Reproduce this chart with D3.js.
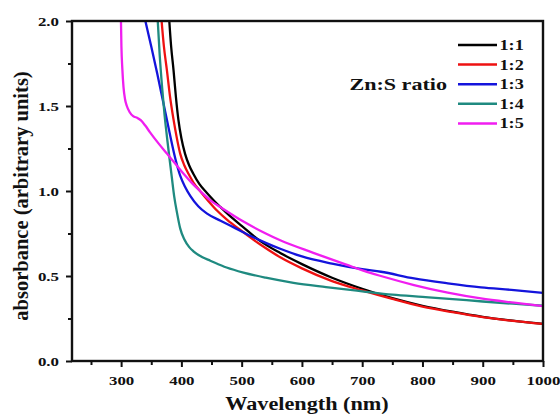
<!DOCTYPE html>
<html>
<head>
<meta charset="utf-8">
<script src="https://cdn.jsdelivr.net/npm/d3@7"></script>
<style>
  html, body { margin: 0; padding: 0; background: #fff; }
  svg { display: block; }
  svg text { font-family: "Liberation Serif", Tinos, "Times New Roman", "Nimbus Roman", "DejaVu Serif", serif !important; font-weight: bold; fill: #111; }
</style>
</head>
<body>
<svg id="chart" width="560" height="414"></svg>
<script>
// ---------- data (wavelength nm, absorbance) ----------
const seriesNames = ["1:1", "1:2", "1:3", "1:4", "1:5"];
const seriesColors = ["#000000", "#ee1111", "#1414dc", "#1f8a80", "#f01ef0"];

const ratio11 = [[379,2.05],[383,1.85],[387,1.71],[391,1.55],[395,1.42],[400,1.31],[406,1.22],[413,1.15],[420,1.10],[430,1.04],[442,0.99],[455,0.94],[465,0.905],[480,0.855],[500,0.795],[531,0.705],[564,0.635],[600,0.57],[650,0.49],[700,0.425],[750,0.37],[800,0.325],[850,0.29],[900,0.26],[950,0.237],[1000,0.218]];
const ratio12 = [[366,2.05],[371,1.85],[376,1.71],[381,1.56],[387,1.42],[392,1.32],[398,1.22],[405,1.15],[412,1.10],[420,1.05],[431,1.0],[445,0.94],[459,0.885],[476,0.83],[500,0.765],[531,0.685],[564,0.61],[600,0.545],[650,0.47],[700,0.415],[750,0.365],[800,0.32],[850,0.287],[900,0.258],[950,0.236],[1000,0.218]];
const ratio13 = [[337,2.05],[350,1.85],[360,1.69],[370,1.52],[380,1.35],[390,1.19],[398,1.09],[406,1.025],[415,0.97],[428,0.91],[442,0.868],[465,0.825],[490,0.78],[515,0.735],[540,0.695],[564,0.66],[600,0.615],[650,0.573],[700,0.54],[731,0.525],[786,0.486],[842,0.457],[897,0.433],[952,0.417],[1000,0.40]];
const ratio14 = [[360,2.05],[364,1.8],[368,1.61],[372,1.45],[376,1.32],[380,1.2],[384,1.084],[388,0.97],[393,0.867],[398,0.78],[405,0.715],[413,0.67],[420,0.645],[435,0.61],[448,0.59],[475,0.55],[503,0.52],[540,0.49],[586,0.46],[640,0.435],[700,0.41],[750,0.39],[800,0.377],[850,0.364],[900,0.35],[950,0.337],[1000,0.325]];
const ratio15 = [[299.5,2.05],[300.5,1.85],[302,1.72],[304,1.61],[306.5,1.54],[309.5,1.50],[314,1.465],[320,1.44],[327,1.43],[333,1.415],[340,1.385],[348,1.345],[362,1.28],[376,1.22],[390,1.16],[404,1.10],[418,1.045],[431,1.0],[448,0.945],[465,0.905],[503,0.82],[540,0.75],[564,0.71],[620,0.635],[675,0.565],[703,0.53],[731,0.5],[786,0.447],[842,0.402],[897,0.368],[952,0.343],[1000,0.323]];
const seriesData = [ratio11, ratio12, ratio13, ratio14, ratio15];

const xMajorTicks = [300, 400, 500, 600, 700, 800, 900, 1000];
const xMinorTicks = [250, 350, 450, 550, 650, 750, 850, 950];
const yMajorTicks = [0.0, 0.5, 1.0, 1.5, 2.0];
const yMinorTicks = [0.25, 0.75, 1.25, 1.75];
const xTitle = "Wavelength (nm)";
const yTitle = "absorbance (arbitrary units)";
const legendTitle = "Zn:S ratio";

// ---------- layout ----------
const svg = d3.select("#chart");
const L = 72, R = 543, T = 21, B = 361;
const x = d3.scaleLinear().domain([218.5, 1000]).range([L, R]);
const y = d3.scaleLinear().domain([0, 2]).range([B, T]);
const sxTick = 1.3;

svg.append("defs").append("clipPath").attr("id", "clip")
  .append("rect").attr("x", L).attr("y", T).attr("width", R - L).attr("height", B - T);

// curves
const line = d3.line().x(d => x(d[0])).y(d => y(d[1])).curve(d3.curveMonotoneX);
const plot = svg.append("g").attr("clip-path", "url(#clip)");
seriesData.forEach((s, i) => {
  plot.append("path").datum(s)
    .attr("fill", "none")
    .attr("stroke", seriesColors[i])
    .attr("stroke-width", 2.3)
    .attr("stroke-linejoin", "round")
    .attr("d", line);
});

// frame
svg.append("rect").attr("x", L).attr("y", T).attr("width", R - L).attr("height", B - T)
  .attr("fill", "none").attr("stroke", "#111").attr("stroke-width", 2.4);

// x axis
const xAxis = svg.append("g").attr("transform", `translate(0,${B})`)
  .call(d3.axisBottom(x).tickValues(xMajorTicks).tickSize(6).tickPadding(9).tickFormat(d3.format("d")));
const xMinor = svg.append("g").attr("transform", `translate(0,${B})`)
  .call(d3.axisBottom(x).tickValues(xMinorTicks).tickSize(4).tickFormat(""));
// y axis
const yAxis = svg.append("g").attr("transform", `translate(${L},0)`)
  .call(d3.axisLeft(y).tickValues(yMajorTicks).tickSize(6).tickFormat(d3.format(".1f")));
const yMinor = svg.append("g").attr("transform", `translate(${L},0)`)
  .call(d3.axisLeft(y).tickValues(yMinorTicks).tickSize(4).tickFormat(""));

[xAxis, xMinor, yAxis, yMinor].forEach(g => {
  g.attr("font-family", null);
  g.select(".domain").remove();
  g.selectAll(".tick line").attr("stroke", "#111").attr("stroke-width", 2);
});
xAxis.selectAll(".tick text")
  .attr("font-size", 13).attr("fill", "#111")
  .attr("transform", `scale(${sxTick},1)`);
yAxis.selectAll(".tick text")
  .attr("font-size", 13).attr("fill", "#111")
  .attr("x", -13 / sxTick).attr("dy", "0.34em")
  .attr("transform", `scale(${sxTick},1)`);

// axis titles
svg.append("text")
  .attr("transform", `translate(307,410) scale(1.17,1)`)
  .attr("text-anchor", "middle").attr("font-size", 19)
  .text(xTitle);
svg.append("text")
  .attr("transform", `translate(28,196) rotate(-90)`)
  .attr("text-anchor", "middle").attr("font-size", 20.5)
  .text(yTitle);

// legend
const legY0 = 45, legDy = 19.6;
const leg = svg.append("g");
seriesNames.forEach((n, i) => {
  const yy = legY0 + i * legDy;
  leg.append("line").attr("x1", 458).attr("x2", 497).attr("y1", yy).attr("y2", yy)
    .attr("stroke", seriesColors[i]).attr("stroke-width", 2.5);
  leg.append("text").attr("transform", `translate(499.5,${yy + 5}) scale(1.3,1)`)
    .attr("font-size", 14).text(n);
});
leg.append("text").attr("transform", `translate(447,${legY0 + 2 * legDy + 6}) scale(1.3,1)`)
  .attr("text-anchor", "end").attr("font-size", 17).text(legendTitle);
</script>
</body>
</html>
